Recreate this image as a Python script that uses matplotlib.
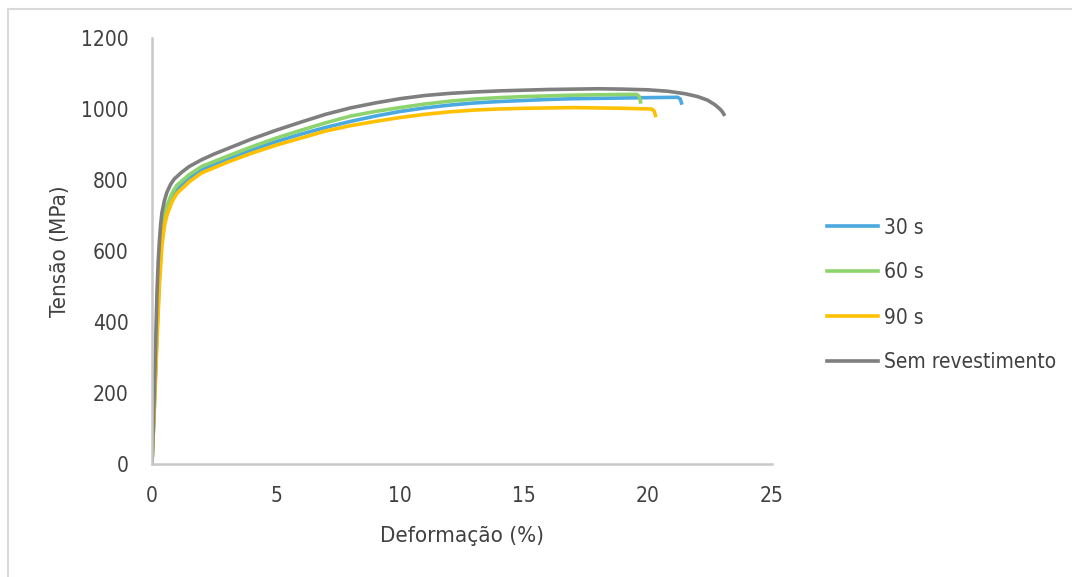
import matplotlib
matplotlib.use("Agg")
import matplotlib.pyplot as plt
from matplotlib.patches import Rectangle

plt.rcParams['font.family'] = ['DejaVu Sans']
plt.rcParams['font.stretch'] = 'condensed'

# curves: strain (%) vs stress (MPa)
x_30 = [0, 0.1, 0.2, 0.3, 0.4, 0.5, 0.6, 0.8, 1.0, 1.5, 2, 3, 4, 5, 6, 7, 8, 9, 10, 11, 12, 13, 14, 15, 16, 17, 18, 19, 20, 21.2, 21.3, 21.35]
y_30 = [0, 175, 370, 530, 635, 690, 715, 750, 772, 805, 829, 857, 884, 908, 929, 948, 965, 980, 993, 1003, 1011, 1017, 1021, 1024, 1027, 1029, 1030, 1031, 1032, 1033, 1028, 1017]

x_60 = [0, 0.1, 0.2, 0.3, 0.4, 0.5, 0.6, 0.8, 1.0, 1.5, 2, 3, 4, 5, 6, 7, 8, 9, 10, 11, 12, 13, 14, 15, 16, 17, 18, 19, 19.55, 19.65, 19.7]
y_60 = [0, 185, 390, 560, 655, 702, 728, 762, 785, 815, 838, 866, 893, 918, 940, 961, 980, 993, 1004, 1014, 1022, 1028, 1032, 1035, 1037, 1039, 1040, 1041, 1041, 1035, 1020]

x_90 = [0, 0.1, 0.2, 0.3, 0.4, 0.5, 0.6, 0.8, 1.0, 1.5, 2, 3, 4, 5, 6, 7, 8, 9, 10, 11, 12, 13, 14, 15, 16, 17, 18, 19, 20.15, 20.25, 20.3]
y_90 = [0, 165, 345, 505, 615, 670, 700, 738, 762, 795, 820, 849, 875, 898, 918, 938, 953, 965, 976, 985, 992, 997, 1000, 1002, 1003, 1004, 1003, 1002, 1000, 994, 982]

x_sem = [0, 0.05, 0.1, 0.15, 0.2, 0.25, 0.3, 0.35, 0.4, 0.5, 0.6, 0.75, 0.9, 1.2, 1.5, 2, 2.5, 3, 3.5, 4, 5, 6, 7, 8, 9, 10, 11, 12, 13, 14, 15, 16, 17, 18, 19, 20, 20.8, 21.5, 22, 22.4, 22.7, 22.9, 23.0, 23.06]
y_sem = [0, 100, 220, 350, 480, 570, 630, 675, 708, 742, 765, 788, 803, 822, 838, 857, 873, 887, 901, 915, 940, 963, 985, 1003, 1017, 1029, 1038, 1044, 1048, 1051, 1053, 1055, 1056, 1057, 1056, 1054, 1050, 1043, 1035, 1025, 1012, 1000, 992, 985]

labels = ['30 s', '60 s', '90 s', 'Sem revestimento']
colors = ['#4aa9e1', '#8ed46e', '#ffc000', '#7f7f7f']

fig = plt.figure(figsize=(10.72, 5.77), dpi=100)
ax = fig.add_axes([152 / 1072, 1 - 464 / 577, 620 / 1072, 426 / 577])

for xs, ys, lab, c in zip([x_30, x_60, x_90, x_sem], [y_30, y_60, y_90, y_sem], labels, colors):
    ax.plot(xs, ys, color=c, lw=2.6, label=lab, solid_joinstyle='round')

ax.set_xlim(0, 25)
ax.set_ylim(0, 1200)
ax.set_xticks([0, 5, 10, 15, 20, 25])
ax.set_yticks(range(0, 1201, 200))
ax.tick_params(length=0, labelsize=15, labelcolor='#404040')
ax.tick_params(axis='y', pad=17)
ax.tick_params(axis='x', pad=16)
for s in ['top', 'right']:
    ax.spines[s].set_visible(False)
for s in ['left', 'bottom']:
    ax.spines[s].set_color('#c8c8c8')
    ax.spines[s].set_linewidth(1.8)

ax.set_xlabel('Deformação (%)', fontsize=16, color='#404040', labelpad=14)
ax.set_ylabel('Tensão (MPa)', fontsize=16, color='#404040', labelpad=8)

fig.legend(loc='center left', bbox_to_anchor=(808 / 1072, 1 - 295 / 577), frameon=False,
           fontsize=15, labelcolor='#404040', handlelength=2.45, handletextpad=0.3,
           labelspacing=1.2)

fig.patches.append(Rectangle((8 / 1072, -0.01), 1.02, 1 - 9 / 577 + 0.01, transform=fig.transFigure,
                             fill=False, edgecolor='#d9d9d9', lw=1.5))

fig.savefig('out.png', dpi=100)
